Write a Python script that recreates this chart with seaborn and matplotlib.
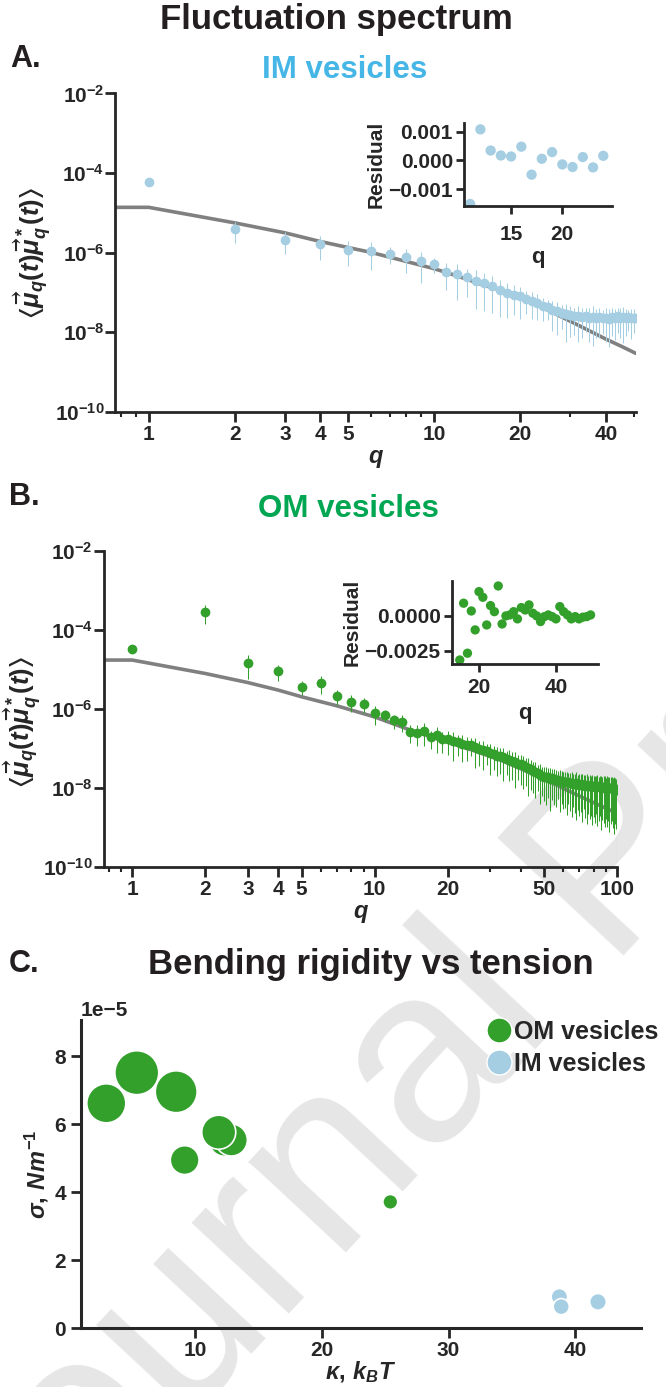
import numpy as np
import matplotlib
matplotlib.use("Agg")
import matplotlib.pyplot as plt
import seaborn as sns
from matplotlib.lines import Line2D
from matplotlib.ticker import FixedLocator, NullFormatter, NullLocator, FuncFormatter

sns.set_style("ticks")
plt.rcParams["font.family"] = ["Liberation Sans", "DejaVu Sans"]
plt.rcParams["font.weight"] = "bold"
plt.rcParams["axes.labelweight"] = "bold"
plt.rcParams["mathtext.fontset"] = "custom"
plt.rcParams["mathtext.rm"] = "Liberation Sans:bold"
plt.rcParams["mathtext.it"] = "Liberation Sans:italic:bold"
plt.rcParams["mathtext.bf"] = "Liberation Sans:bold"
plt.rcParams["mathtext.fallback"] = "stix"
plt.rcParams["axes.facecolor"] = "none"

"""
Data
"""

# IM vesicles, fluctuation spectrum (log10 of <mu_q mu_q*>), q = 1..51
im_q = list(range(1, 52))
im_log = [-4.22, -5.41, -5.68, -5.78, -5.92, -5.95, -6.02, -6.10, -6.21, -6.29,
          -6.48, -6.54, -6.62, -6.70, -6.77, -6.84, -6.94, -7.00, -7.05, -7.10,
          -7.17, -7.21, -7.26, -7.33, -7.37, -7.44, -7.47, -7.51, -7.54, -7.57,
          -7.60, -7.58, -7.62, -7.60, -7.63, -7.61, -7.64, -7.62, -7.65, -7.63,
          -7.66, -7.62, -7.65, -7.60, -7.63, -7.61, -7.64, -7.62, -7.64, -7.63,
          -7.63]
# error as fraction of the value
im_err = [0.05, 0.55, 0.55, 0.60, 0.62, 0.67, 0.44, 0.60, 0.72, 0.40,
          0.65, 0.78, 0.67, 0.81, 0.80, 0.79, 0.79, 0.77, 0.70, 0.72,
          0.58, 0.65, 0.63, 0.58, 0.53, 0.70, 0.75, 0.60, 0.80, 0.72,
          0.65, 0.78, 0.70, 0.60, 0.75, 0.82, 0.68, 0.70, 0.60, 0.76,
          0.80, 0.66, 0.72, 0.62, 0.70, 0.78, 0.65, 0.55, 0.70, 0.60,
          0.70]
fit_a_q = [0, 1, 2, 3, 4, 5, 6, 8, 10, 12, 15, 20, 25, 30, 35, 40, 45, 51]
fit_a_log = [-4.86, -4.86, -5.25, -5.50, -5.72, -5.87, -5.99, -6.22, -6.40, -6.58,
             -6.82, -7.08, -7.44, -7.72, -7.96, -8.17, -8.34, -8.53]
res_a_q = list(range(11, 25))
res_a = [-0.00151, 0.00108, 0.000345, 0.000172, 0.000138, 0.00048, -0.000493,
         0.0000586, 0.00029, -0.000138, -0.000228, 0.000117, -0.000241, 0.000162]

# OM vesicles, q = 1..100
om_q = list(range(1, 101))
om_log = [-4.49, -3.54, -4.84, -5.04, -5.44, -5.34, -5.67, -5.81, -5.87, -6.10,
          -6.15, -6.29, -6.32, -6.57, -6.60, -6.55, -6.72, -6.66, -6.77, -6.76,
          -6.80, -6.84, -6.88, -6.92, -6.90, -6.97, -7.01, -7.04, -7.07, -7.12,
          -7.14, -7.18, -7.20, -7.22, -7.26, -7.28, -7.31, -7.34, -7.38, -7.40,
          -7.42, -7.47, -7.50, -7.53, -7.57, -7.60, -7.63, -7.66, -7.69, -7.71,
          -7.72, -7.73, -7.76, -7.75, -7.78, -7.79, -7.79, -7.82, -7.81, -7.84,
          -7.85, -7.86, -7.85, -7.88, -7.87, -7.89, -7.90, -7.88, -7.91, -7.92,
          -7.91, -7.93, -7.92, -7.94, -7.92, -7.95, -7.94, -7.96, -7.94, -7.95,
          -7.97, -7.95, -7.96, -7.98, -7.96, -7.97, -7.99, -7.97, -7.98, -8.00,
          -7.98, -7.99, -8.01, -7.99, -8.00, -8.02, -8.01, -8.03, -8.04, -8.05]
om_err = [0.10, 0.50, 0.60, 0.45, 0.38, 0.46, 0.41, 0.45, 0.40, 0.50,
          0.35, 0.40, 0.45, 0.50, 0.55, 0.60, 0.50, 0.65, 0.55, 0.60,
          0.70, 0.55, 0.65, 0.60, 0.50, 0.70, 0.62, 0.68, 0.55, 0.72,
          0.60, 0.70, 0.65, 0.75, 0.60, 0.72, 0.68, 0.78, 0.62, 0.70,
          0.75, 0.66, 0.80, 0.70, 0.72, 0.78, 0.65, 0.82, 0.70, 0.76,
          0.80, 0.70, 0.85, 0.72, 0.78, 0.80, 0.68, 0.84, 0.75, 0.80,
          0.78, 0.85, 0.72, 0.80, 0.86, 0.75, 0.82, 0.88, 0.78, 0.84,
          0.80, 0.88, 0.76, 0.85, 0.90, 0.80, 0.86, 0.82, 0.90, 0.84,
          0.88, 0.80, 0.90, 0.86, 0.82, 0.92, 0.85, 0.88, 0.90, 0.84,
          0.90, 0.86, 0.92, 0.88, 0.85, 0.90, 0.93, 0.87, 0.90, 0.999]
fit_b_q = [0, 1, 2, 3, 4, 5, 7, 10, 14, 20, 25, 33, 40, 50, 62, 75, 87, 100]
fit_b_log = [-4.76, -4.76, -5.10, -5.33, -5.52, -5.69, -5.92, -6.20, -6.53, -6.84,
             -7.03, -7.29, -7.51, -7.77, -8.05, -8.29, -8.47, -8.64]
res_b_q = list(range(15, 50))
res_b = [-0.00314, 0.00088, -0.00266, 0.00033, -0.00101, 0.0017, 0.0013, -0.00066,
         0.00071, 0.00028, 0.0021, -0.00059, -0.00002, 0.00005, 0.00028, -0.00023,
         0.00057, 0.0004, 0.00076, 0.00017, -0.00002, -0.00042, -0.00007, 0.00005,
         -0.00007, -0.00023, 0.00064, 0.00028, 0.00005, -0.00023, -0.00007, -0.00023,
         -0.00011, -0.00007, 0.00005]

# bending rigidity (k_B T) vs tension (N/m), bubble area ~ vesicle size
om_kappa = [2.97, 5.38, 8.49, 12.3, 12.85, 11.85, 9.16, 25.4]
om_sigma = [6.61e-5, 7.51e-5, 6.95e-5, 5.50e-5, 5.53e-5, 5.76e-5, 4.94e-5, 3.71e-5]
om_area = [790, 1000, 910, 480, 530, 600, 430, 115]
im_kappa = [38.75, 38.9, 41.8]
im_sigma = [0.92e-5, 0.63e-5, 0.77e-5]
im_area = [140, 135, 145]

IM_COL = "#a6cee3"
OM_COL = "#33a02c"
FIT_COL = "#808080"
TXT_COL = "#231f20"

"""
Figure
"""

fig = plt.figure(figsize=(6.66, 13.87), dpi=100)
fig.text(0.923, 0.373, "Journal Pre-proof", rotation=47, fontsize=180,
         color="#e6e6e6", fontweight="normal", ha="center", va="center",
         zorder=-1)


def spectrum(ax, q, logv, err, fq, flog, col, xmax, xmajor, xminor):
    v = 10 ** np.array(logv)
    ax.plot(fq, 10 ** np.array(flog), color=FIT_COL, lw=2.6, zorder=2)
    ax.errorbar(q, v, yerr=np.array(err) * v, fmt="o", color=col, ms=6,
                elinewidth=0.75, capsize=0, zorder=3)
    ax.set_xscale("log")
    ax.set_yscale("log")
    ax.set_xlim(0.765, xmax)
    ax.set_ylim(1e-10, 1e-2)
    ax.xaxis.set_major_locator(FixedLocator(xmajor))
    ax.xaxis.set_major_formatter(FuncFormatter(lambda x, p: f"{x:g}"))
    ax.xaxis.set_minor_locator(FixedLocator(xminor))
    ax.xaxis.set_minor_formatter(NullFormatter())
    ax.yaxis.set_major_locator(FixedLocator([1e-10, 1e-8, 1e-6, 1e-4, 1e-2]))
    ax.yaxis.set_minor_locator(NullLocator())
    for s in ["left", "bottom"]:
        ax.spines[s].set_linewidth(2)
    sns.despine(ax=ax)
    ax.tick_params(which="major", length=7, width=2, labelsize=15)
    ax.tick_params(axis="x", which="major", pad=2.5)
    ax.tick_params(axis="y", which="major", pad=1)
    ax.tick_params(which="minor", length=3.5, width=1.5)
    ax.set_xlabel(r"$q$", fontsize=17, labelpad=2)
    ax.set_ylabel(r"$\langle\vec{\mu}_q(t)\vec{\mu}^*_q(t)\rangle$", fontsize=18.5)


def residual(ax, q, r, col, xlim, ylim, yticks, xticks, size, xpad, lpad):
    sns.scatterplot(x=q, y=r, color=col, s=size, edgecolor="none", ax=ax,
                    legend=False)
    ax.set_xlim(*xlim)
    ax.set_ylim(*ylim)
    ax.yaxis.set_major_locator(FixedLocator(yticks))
    ax.xaxis.set_major_locator(FixedLocator(xticks))
    for s in ["left", "bottom"]:
        ax.spines[s].set_linewidth(2)
    sns.despine(ax=ax)
    ax.tick_params(length=6, width=2, labelsize=15)
    ax.tick_params(axis="y", pad=2)
    ax.tick_params(axis="x", pad=xpad)
    ax.set_xlabel("q", fontsize=16, labelpad=lpad)
    ax.set_ylabel("Residual", fontsize=15, labelpad=2)


# Panel A
ax_a = fig.add_axes([0.1734, 0.7030, 0.7815, 0.2296])
spectrum(ax_a, im_q, im_log, im_err, fit_a_q, fit_a_log, IM_COL, 51,
         [1, 2, 3, 4, 5, 10, 20, 40], [0.8, 0.9, 6, 7, 8, 9, 30, 50])
ax_a.yaxis.set_label_coords(-0.12, 0.5)

ins_a = fig.add_axes([0.6967, 0.8515, 0.2222, 0.0598])
residual(ins_a, res_a_q, res_a, IM_COL, (10.4, 24.85), (-0.00158, 0.0013),
         [-0.001, 0.0, 0.001], [15, 20], 55, 8, 2)

# Panel B
ax_b = fig.add_axes([0.1562, 0.3749, 0.7703, 0.2278])
spectrum(ax_b, om_q, om_log, om_err, fit_b_q, fit_b_log, OM_COL, 100,
         [1, 2, 3, 4, 5, 10, 20, 50, 100],
         [0.8, 0.9, 6, 7, 8, 9, 30, 40, 60, 70, 80, 90])
ax_b.yaxis.set_label_coords(-0.118, 0.46)

ins_b = fig.add_axes([0.6782, 0.5211, 0.2201, 0.0601])
residual(ins_b, res_b_q, res_b, OM_COL, (12.9, 51.0), (-0.00344, 0.00246),
         [-0.0025, 0.0], [20, 40], 45, 4, 4)

# Panel C
ax_c = fig.add_axes([0.1212, 0.0425, 0.8413, 0.2221])
sns.scatterplot(x=om_kappa, y=om_sigma, s=om_area, color=OM_COL,
                edgecolor="white", linewidth=1.2, ax=ax_c, legend=False)
sns.scatterplot(x=im_kappa, y=im_sigma, s=im_area, color=IM_COL,
                edgecolor="white", linewidth=1.2, ax=ax_c, legend=False)
ax_c.set_xlim(0.95, 45.2)
ax_c.set_ylim(0, 9.06e-5)
ax_c.xaxis.set_major_locator(FixedLocator([10, 20, 30, 40]))
ax_c.yaxis.set_major_locator(FixedLocator([0, 2e-5, 4e-5, 6e-5, 8e-5]))
for s in ["left", "bottom"]:
    ax_c.spines[s].set_linewidth(2.2)
sns.despine(ax=ax_c)
ax_c.tick_params(length=7, width=2, labelsize=15)
ax_c.tick_params(axis="x", pad=2)
ax_c.yaxis.get_offset_text().set_fontsize(15)
ax_c.set_xlabel(r"$\kappa,\,k_BT$", fontsize=17, labelpad=0)
ax_c.set_ylabel(r"$\sigma,\,Nm^{-1}$", fontsize=17)
ax_c.yaxis.set_label_coords(-0.053, 0.5)

handles = [Line2D([], [], marker="o", ls="none", markerfacecolor=OM_COL,
                  markeredgecolor="white", markersize=18),
           Line2D([], [], marker="o", ls="none", markerfacecolor=IM_COL,
                  markeredgecolor="white", markersize=18)]
fig.legend(handles, ["OM vesicles", "IM vesicles"], loc="upper left",
           bbox_to_anchor=(0.712, 0.2735), frameon=False, handlelength=1.0,
           handletextpad=0.1, labelspacing=0.3, borderpad=0,
           prop={"size": 18, "weight": "bold"})

# titles and panel letters
fig.text(0.505, 0.9856, "Fluctuation spectrum", fontsize=25, color=TXT_COL,
         ha="center", va="center")
fig.text(0.016, 0.9575, "A.", fontsize=22, color=TXT_COL, va="center")
fig.text(0.517, 0.9495, "IM vesicles", fontsize=22.5, color="#45b6e6",
         ha="center", va="center")
fig.text(0.013, 0.6417, "B.", fontsize=22, color=TXT_COL, va="center")
fig.text(0.523, 0.633, "OM vesicles", fontsize=22.5, color="#00a651",
         ha="center", va="center")
fig.text(0.013, 0.305, "C.", fontsize=22, color=TXT_COL, va="center")
fig.text(0.557, 0.3043, "Bending rigidity vs tension", fontsize=25,
         color=TXT_COL, ha="center", va="center")

fig.savefig("out.png", dpi=100)
